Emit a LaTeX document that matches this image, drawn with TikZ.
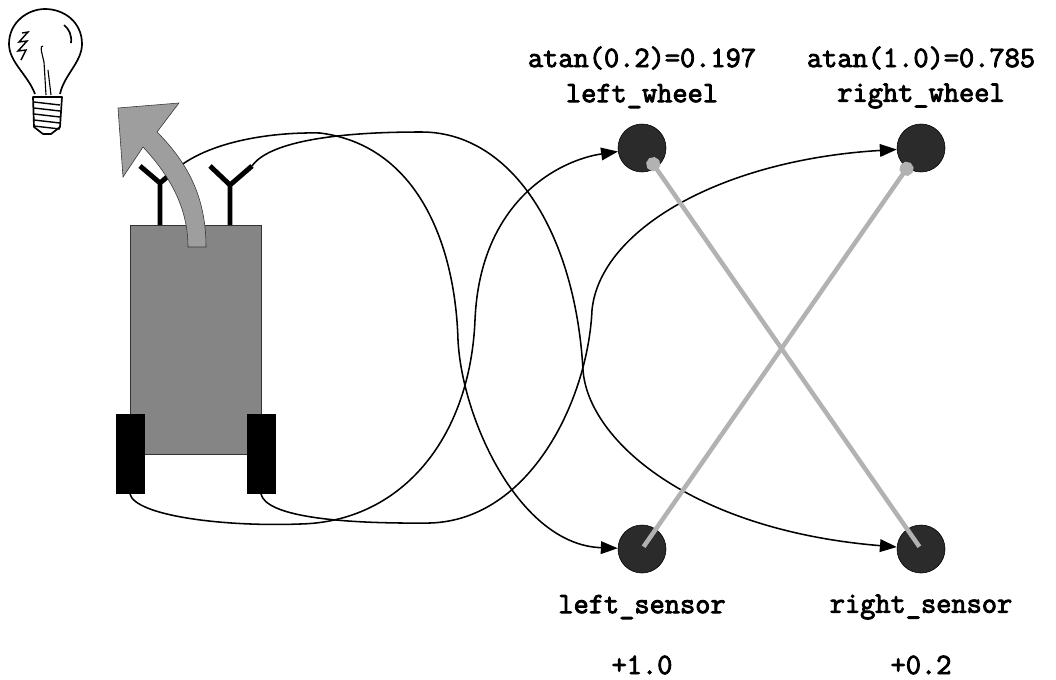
\documentclass[tikz,border=0pt]{standalone}
\usepackage{fontspec}
\setmonofont{Latin Modern Mono}[FakeBold=3]
\usetikzlibrary{arrows.meta}

\definecolor{bodygray}{gray}{0.52}
\definecolor{turngray}{gray}{0.62}
\definecolor{weightgray}{gray}{0.7}
\definecolor{unitgray}{gray}{0.17}

\tikzset{
	neuron/.style={circle, draw=black, fill=unitgray, minimum size=1.2cm, inner sep=0pt},
	wire/.style={line width=1.1pt, -{Triangle[length=12pt, width=9pt]}},
	weight/.style={line width=3.2pt, weightgray, {Circle[length=10pt]}-},
	lbl/.style={font=\ttfamily\fontsize{21}{25}\selectfont, inner sep=0pt},
	antenna/.style={line width=3.5pt}
}

\begin{document}
\begin{tikzpicture}[x=0.025cm, y=-0.025cm]
	
	\useasboundingbox (0,0) rectangle (1056,679);
	
	% bulb
	\draw [line width=1.2pt, line join=round] (35,94) .. controls (28,75) and (9,62) .. (9,44) .. controls (9,22) and (28,9) .. (45,9) .. controls (64,9) and (82,22) .. (82,44) .. controls (82,62) and (64,75) .. (60,94);
	
	\draw [line width=1.2pt, line join=round] (33,97) -- (62,97) -- (60,127) -- (51,134) -- (43,134) -- (34,127) -- cycle;
	
	\foreach \y in {102,108,...,126}
		\draw [line width=1pt] (34,\y) -- (60,\y+3);
	
	\draw [line width=1pt] (22,33) -- (28,32) -- (19,42) -- (27,41) -- (18,51) -- (26,50) -- (21,60);
	
	\draw [line width=1.2pt] (64,25) .. controls (69,29) and (72,35) .. (71,43);
	
	\draw [line width=0.8pt] (46,95) -- (44,62) .. controls (41,50) and (40,46) .. (43,46) (51,95) -- (48,70);
	
	% robot
	\filldraw [fill=bodygray, draw=black!80, thin] (130,225) rectangle (261,454);
	
	\fill (116,414) rectangle (145,494);
	
	\fill (247,414) rectangle (276,494);
	
	\coordinate (ltyre) at (130,494);
	
	\coordinate (rtyre) at (261,494);
	
	\draw [antenna] (160,225) -- (160,183) -- (140,166) (160,183) -- (180,166) coordinate (lant);
	
	\draw [antenna] (230,225) -- (230,185) -- (210,166) (230,185) -- (252,166) coordinate (rant);
	
	% units
	\node [neuron] (lwheel) at (642,148) {};
	
	\node [neuron] (rwheel) at (921,148) {};
	
	\node [neuron] (lsensor) at (642,549) {};
	
	\node [neuron] (rsensor) at (921,549) {};
	
	\node [lbl] (lwval) at (642,58) {atan(0.2)=0.197};
	
	\node [lbl] (lwname) at (642,96) {left\_wheel};
	
	\node [lbl] (rwval) at (921,58) {atan(1.0)=0.785};
	
	\node [lbl] (rwname) at (921,96) {right\_wheel};
	
	\node [lbl] (lsname) at (642,607) {left\_sensor};
	
	\node [lbl] (lsval) at (642,665) {+1.0};
	
	\node [lbl] (rsname) at (921,607) {right\_sensor};
	
	\node [lbl] (rsval) at (921,665) {+0.2};
	
	% wires
	\draw [wire] (lant) .. controls (215,140) and (275,132) .. (320,133) .. controls (415,145) and (455,240) .. (458,340) .. controls (462,420) and (520,545) .. (lsensor);
	
	\draw [wire] (rant) .. controls (268,143) and (330,132) .. (420,132) .. controls (510,131) and (575,230) .. (583,370) .. controls (588,440) and (690,530) .. (rsensor);
	
	\draw [wire] (ltyre) .. controls (135,515) and (220,527) .. (300,524) .. controls (400,522) and (470,440) .. (475,320) .. controls (480,200) and (560,160) .. (lwheel);
	
	\draw [wire] (rtyre) .. controls (266,515) and (330,524) .. (430,523) .. controls (530,520) and (588,400) .. (592,310) .. controls (600,230) and (720,160) .. (rwheel);
	
	\draw [weight, shorten <=9pt, shorten >=2pt] (lwheel.center) -- (rsensor.center);
	
	\draw [weight, shorten <=13pt, shorten >=2pt] (rwheel.center) -- (lsensor.center);
	
	% turn arrow
	\filldraw [fill=turngray, draw=black!80, thin] (206,247) -- (188,247) .. controls (188,210) and (172,178) .. (143,147) -- (123,177) -- (118,108) -- (179,103) -- (157,132) .. controls (190,165) and (206,200) .. (206,247) -- cycle;
	
\end{tikzpicture}
\end{document}
